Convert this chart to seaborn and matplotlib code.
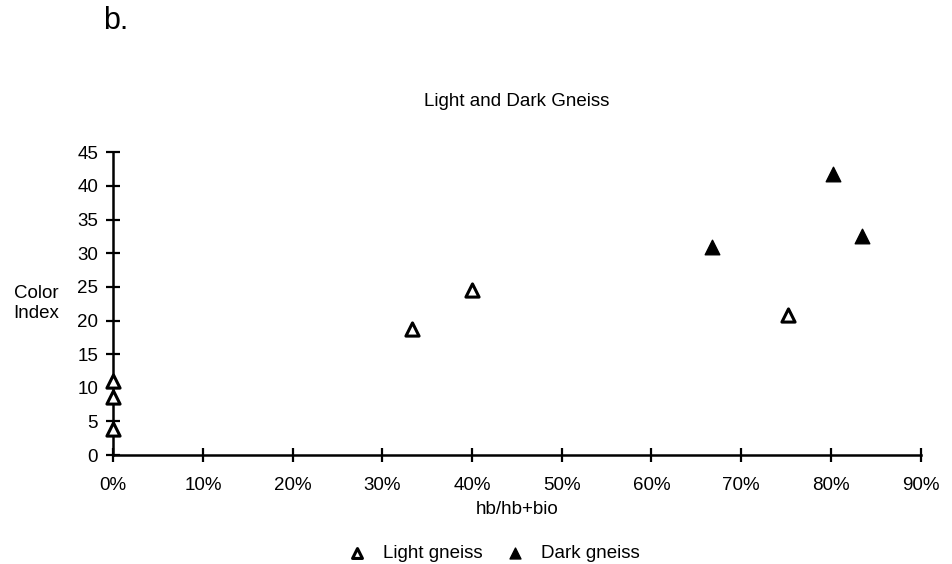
import matplotlib
matplotlib.use("Agg")
import matplotlib.pyplot as plt
from matplotlib.ticker import FuncFormatter
import seaborn as sns
import pandas as pd

# hb/(hb+bio) ratio (%) and colour index for each sample
light_ratio = [0, 0, 0, 33.3, 40.0, 75.2]
light_ci = [11, 8.7, 3.9, 18.8, 24.6, 20.8]
dark_ratio = [66.7, 80.2, 83.5]
dark_ci = [30.9, 41.8, 32.6]

x_ticks = [0, 10, 20, 30, 40, 50, 60, 70, 80, 90]
y_ticks = [0, 5, 10, 15, 20, 25, 30, 35, 40, 45]

df = pd.concat([
    pd.DataFrame({"ratio": light_ratio, "ci": light_ci, "rock": "Light gneiss"}),
    pd.DataFrame({"ratio": dark_ratio, "ci": dark_ci, "rock": "Dark gneiss"}),
], ignore_index=True)

sns.set_theme(style="white")
plt.rcParams["font.family"] = ["Liberation Sans", "DejaVu Sans"]
plt.rcParams["text.color"] = "black"

fig = plt.figure(figsize=(9.52, 5.64), dpi=100)
ax = fig.add_axes([0.119, 0.193, 0.848, 0.537])

sns.scatterplot(data=df[df.rock == "Light gneiss"], x="ratio", y="ci", ax=ax,
                marker="^", s=90, facecolor="white", edgecolor="black",
                linewidth=2.2, label="Light gneiss", clip_on=False, zorder=5)
sns.scatterplot(data=df[df.rock == "Dark gneiss"], x="ratio", y="ci", ax=ax,
                marker="^", s=110, color="black", edgecolor="black",
                linewidth=1, label="Dark gneiss", clip_on=False, zorder=5)

ax.set_xlim(0, 90)
ax.set_ylim(0, 45)
ax.set_xticks(x_ticks)
ax.set_yticks(y_ticks)
ax.xaxis.set_major_formatter(FuncFormatter(lambda v, p: f"{v:.0f}%"))

for side in ("top", "right"):
    ax.spines[side].set_visible(False)
for side in ("left", "bottom"):
    ax.spines[side].set_color("black")
    ax.spines[side].set_linewidth(1.8)

ax.tick_params(axis="both", which="major", bottom=True, left=True,
               direction="inout", length=10, width=1.6, color="black",
               labelsize=13.5, labelcolor="black")
ax.tick_params(axis="x", pad=11)
ax.tick_params(axis="y", pad=6)
ax.grid(False)

ax.set_xlabel("hb/hb+bio", fontsize=13.5, color="black", labelpad=5)
ax.set_ylabel("Color\nIndex", fontsize=13.5, color="black", rotation=0,
              ha="center", va="center")
ax.yaxis.set_label_coords(-0.095, 0.5)

ax.set_title("Light and Dark Gneiss", fontsize=13.5, color="black", pad=33)
fig.text(0.108, 0.962, "b.", fontsize=22, color="black", va="center", ha="left")

leg = ax.legend(loc="upper center", bbox_to_anchor=(0.471, -0.24), ncol=2,
                frameon=False, fontsize=13.5, handlelength=1.0,
                handletextpad=0.9, columnspacing=1.2, markerscale=0.75,
                labelcolor="black")

fig.savefig("out.png", dpi=100, facecolor="white")
